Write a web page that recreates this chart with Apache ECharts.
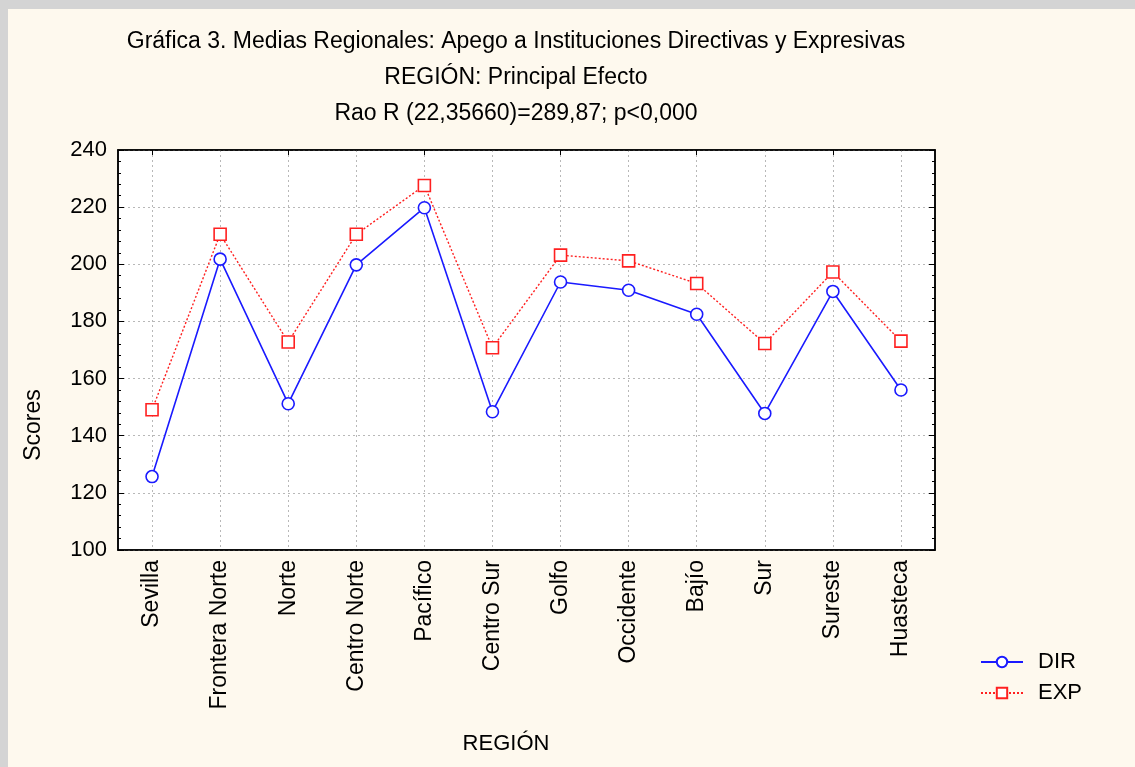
<!DOCTYPE html>
<html>
<head>
<meta charset="utf-8">
<script src="https://cdn.jsdelivr.net/npm/echarts@6/dist/echarts.min.js"></script>
<style>
	html, body {margin: 0; padding: 0; background: #d4d4d4;}
	#chart {width: 1135px; height: 767px;}
</style>
</head>
<body>
<div id="chart"></div>
<script>
var regiones = ['Sevilla', 'Frontera Norte', 'Norte', 'Centro Norte', 'Pacífico', 'Centro Sur',
	'Golfo', 'Occidente', 'Bajío', 'Sur', 'Sureste', 'Huasteca'];
var dirValues = [125.7, 201.8, 151.2, 199.8, 219.8, 148.4, 193.8, 190.9, 182.5, 147.8, 190.5, 156.0];
var expValues = [149.1, 210.5, 172.8, 210.5, 227.6, 170.8, 203.2, 201.2, 193.3, 172.3, 197.3, 173.1];
var yTicks = {min: 100, max: 240, step: 20};

var font = 'Liberation Sans, Arial, sans-serif';
var e = echarts.init(document.getElementById('chart'));

var u = {
	backgroundColor: '#d4d4d4',
	animation: false,
	textStyle: {fontFamily: font, color: '#000'},
	graphic: [
		{type: 'rect', z: -10, shape: {x: 8, y: 9, width: 1135, height: 767}, style: {fill: '#fef9ee'}},
		{type: 'text', x: 34, y: 425, rotation: Math.PI / 2,
			style: {text: 'Scores', font: '23px ' + font, fill: '#000', align: 'center', verticalAlign: 'middle'}},
		{type: 'text', x: 506, y: 744,
			style: {text: 'REGIÓN', font: '22px ' + font, fill: '#000', align: 'center', verticalAlign: 'middle'}}
	],
	title: {
		text: 'Gráfica 3. Medias Regionales: Apego a Instituciones Directivas y Expresivas\nREGIÓN: Principal Efecto\nRao R (22,35660)=289,87; p<0,000',
		left: 511,
		top: 19,
		textAlign: 'center',
		textStyle: {fontFamily: font, fontSize: 23, fontWeight: 'normal', color: '#000', lineHeight: 36}
	},
	legend: {
		orient: 'vertical',
		left: 975,
		top: 646,
		itemWidth: 42,
		itemHeight: 13,
		itemGap: 9,
		textStyle: {fontFamily: font, fontSize: 22, color: '#000', padding: [0, 0, 0, 10]},
		data: ['DIR', 'EXP']
	},
	grid: {
		left: 118, right: 200, top: 150, bottom: 217,
		show: true, backgroundColor: '#fff', borderColor: '#000', borderWidth: 1.5
	},
	xAxis: [{
		type: 'category',
		data: regiones,
		boundaryGap: true,
		axisLine: {lineStyle: {color: '#000', width: 1.5}},
		axisTick: {show: false},
		axisLabel: {rotate: 90, fontSize: 23, color: '#000', margin: 10, interval: 0, fontFamily: font},
		splitLine: {show: true, alignWithLabel: true, lineStyle: {color: '#b8b8b8', type: [2, 3]}}
	}, {
		type: 'category',
		data: regiones,
		position: 'top',
		boundaryGap: true,
		axisLine: {lineStyle: {color: '#000', width: 1.5}},
		axisTick: {show: true, inside: true, alignWithLabel: true, length: 5, lineStyle: {color: '#000'}},
		axisLabel: {show: false}
	}],
	yAxis: [{
		type: 'value',
		min: yTicks.min, max: yTicks.max, interval: yTicks.step,
		axisLine: {show: true, lineStyle: {color: '#000', width: 1.5}},
		axisTick: {show: true, inside: true, length: 6, lineStyle: {color: '#000'}},
		minorTick: {show: true, splitNumber: 5, length: 3, lineStyle: {color: '#000'}},
		axisLabel: {fontSize: 22, color: '#000', margin: 11, fontFamily: font},
		splitLine: {show: true, lineStyle: {color: '#b8b8b8', type: [2, 3]}}
	}, {
		type: 'value',
		position: 'right',
		min: yTicks.min, max: yTicks.max, interval: yTicks.step,
		axisLine: {show: true, lineStyle: {color: '#000', width: 1.5}},
		axisTick: {show: true, inside: true, length: 6, lineStyle: {color: '#000'}},
		minorTick: {show: true, splitNumber: 5, length: 3, lineStyle: {color: '#000'}},
		axisLabel: {show: false},
		splitLine: {show: false}
	}],
	series: [{
		name: 'DIR',
		type: 'line',
		data: dirValues,
		symbol: 'circle',
		symbolSize: 12,
		lineStyle: {color: '#1a1aff', width: 1.6},
		itemStyle: {color: '#fff', borderColor: '#1a1aff', borderWidth: 1.6},
		z: 3
	}, {
		name: 'EXP',
		type: 'line',
		data: expValues,
		symbol: 'rect',
		symbolSize: 12,
		lineStyle: {color: '#ff2020', width: 1.4, type: [2, 2]},
		itemStyle: {color: '#fff', borderColor: '#ff2020', borderWidth: 1.6},
		z: 4
	}]
};
e.setOption(u);
</script>
</body>
</html>
